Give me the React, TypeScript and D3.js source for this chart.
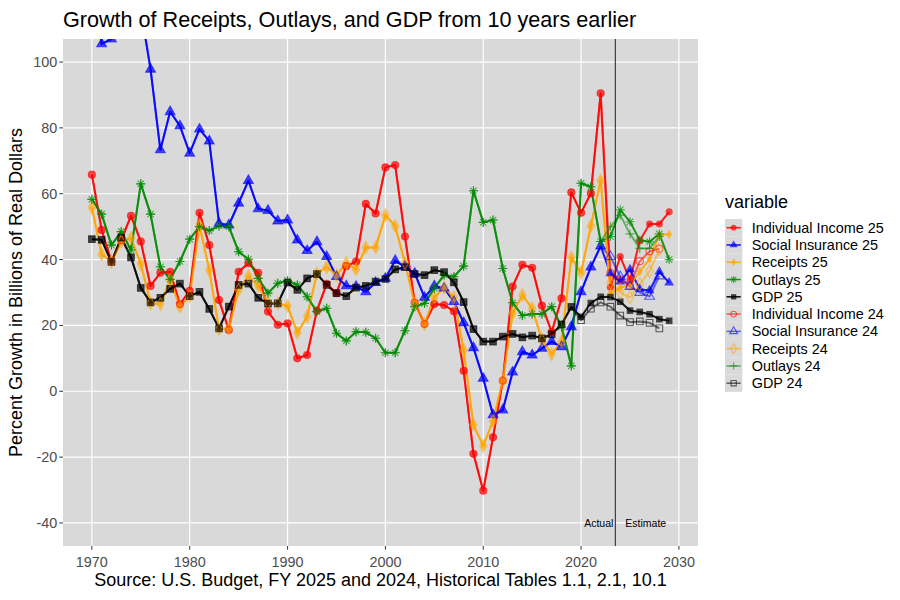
import React from "react";
import * as d3 from "d3";

// ---------- data ----------
const YEARS_25 = d3.range(1970, 2030); // 1970..2029
const YEARS_24 = d3.range(1970, 2029); // 1970..2028

const individualIncome25 = [
  65.8, 49, 39.4, 45.9, 53.3, 45.5, 32, 36, 36.3, 26.5,
  30.5, 54.2, 44.4, 27.7, 18.6, 36.3, 38.9, 36, 24.2, 20.2,
  20.6, 10, 11, 24.5, 32.6, 29.8, 38, 39.4, 56.9, 54,
  68, 68.7, 47, 26.9, 20.4, 26.5, 26.2, 24.3, 6.2, -19,
  -30.2, -14, 3.2, 31.8, 38.4, 37.5, 26, 18, 28.2, 60.4,
  54.2, 60.1, 90.5, 31.6, 40.9, 33.8, 45.7, 50.8, 50.8, 54.5,
];
const socialInsurance25 = [
  130, 105.5, 107, 125, 128, 116, 97.8, 73.3, 84.9, 80.6,
  72.3, 79.6, 76, 51, 50.5, 57.1, 64, 55.4, 54.9, 51.7,
  52, 45.9, 42.7, 45.4, 40.9, 34.8, 32, 31.8, 30.2, 33,
  34.3, 39.7, 37.8, 35.8, 28.5, 32, 31.3, 27.2, 20.8, 13.2,
  3.9, -7.2, -5.7, 5.8, 12, 11, 13, 15.1, 13.5, 19.6,
  30.2, 37.7, 44.1, 35.8, 33.3, 37, 31, 30.6, 36.3, 33,
];
const receipts25 = [
  55.8, 41.6, 39.4, 45.4, 46.5, 38.7, 26.7, 26.5, 33.8, 25.7,
  28.9, 50.5, 36.8, 18.8, 19.1, 30.8, 35, 32, 26.9, 26.7,
  25.9, 17.8, 22.7, 35.8, 37.7, 35.3, 38.9, 37, 43.7, 43.7,
  53.5, 50.2, 38.9, 26.7, 20.4, 28.5, 31.5, 28.5, 12.5, -10.2,
  -16.6, -9, 3.2, 23.7, 29.2, 25.2, 15.6, 11.3, 15.1, 40.6,
  36, 50.2, 64, 29.8, 31.5, 32.3, 36.3, 40.2, 47.5, 47.7,
];
const outlays25 = [
  58.3, 53.8, 44.4, 48.5, 42.9, 63, 53.8, 37.8, 34, 39.4,
  46.2, 50, 48.8, 50.2, 50, 42.4, 40.1, 34.3, 29.8, 32.8,
  33.6, 32.3, 28.7, 24.2, 25.2, 17.6, 15.3, 18.1, 17.9, 16.1,
  11.7, 11.7, 18.4, 25.7, 26.7, 31.3, 35.3, 34.8, 38, 60.9,
  51.3, 52, 37.3, 26.9, 23, 23.5, 23.5, 25.7, 19.6, 7.7,
  63.2, 62.1, 45.5, 47, 55.1, 51.5, 45.9, 45.4, 47.8, 40,
];
const gdp25 = [
  46.2, 46, 39.3, 46.7, 40.7, 31.4, 27, 28.4, 31.1, 32.7,
  28.9, 30.2, 25, 19.1, 25.7, 32.3, 32.7, 28.4, 26.6, 26.7,
  33, 30.8, 34.3, 35.6, 32.3, 29.8, 28.9, 31.5, 32, 33.3,
  34.1, 37, 37.7, 35.6, 35.3, 36.8, 36.2, 33.1, 27.1, 18.9,
  15.1, 15.1, 16.6, 17.4, 16.4, 16.9, 16.1, 17.3, 20.3, 25.6,
  22.6, 26.8, 28.7, 28.6, 27.2, 24.5, 24.1, 23.4, 21.9, 21.4,
];

const individualIncome24 = [
  65.8, 49, 39.4, 45.9, 53.3, 45.5, 32, 36, 36.3, 26.5,
  30.5, 54.2, 44.4, 27.7, 18.6, 36.3, 38.9, 36, 24.2, 20.2,
  20.6, 10, 11, 24.5, 32.6, 29.8, 38, 39.4, 56.9, 54,
  68, 68.7, 47, 26.9, 20.4, 26.5, 26.2, 24.3, 6.2, -19,
  -30.2, -14, 3.2, 31.8, 38.4, 37.5, 26, 18, 28.2, 60.4,
  54.2, 60.1, 90.5, 36, 34, 32, 39.5, 42.5, 43.3,
];
const socialInsurance24 = [
  130, 105.5, 107, 125, 128, 116, 97.8, 73.3, 84.9, 80.6,
  72.3, 79.6, 76, 51, 50.5, 57.1, 64, 55.4, 54.9, 51.7,
  52, 45.9, 42.7, 45.4, 40.9, 34.8, 32, 31.8, 30.2, 33,
  34.3, 39.7, 37.8, 35.8, 28.5, 32, 31.3, 27.2, 20.8, 13.2,
  3.9, -7.2, -5.7, 5.8, 12, 11, 13, 15.1, 13.5, 19.6,
  30.2, 37.7, 44.1, 40.9, 34.8, 31.8, 30, 28.8, 35,
];
const receipts24 = [
  55.8, 41.6, 39.4, 45.4, 46.5, 38.7, 26.7, 26.5, 33.8, 25.7,
  28.9, 50.5, 36.8, 18.8, 19.1, 30.8, 35, 32, 26.9, 26.7,
  25.9, 17.8, 22.7, 35.8, 37.7, 35.3, 38.9, 37, 43.7, 43.7,
  53.5, 50.2, 38.9, 26.7, 20.4, 28.5, 31.5, 28.5, 12.5, -10.2,
  -16.6, -9, 3.2, 23.7, 29.2, 25.2, 15.6, 11.3, 15.1, 40.6,
  36, 50.2, 64, 33, 30, 28.5, 32.5, 36.5, 43,
];
const outlays24 = [
  58.3, 53.8, 44.4, 48.5, 42.9, 63, 53.8, 37.8, 34, 39.4,
  46.2, 50, 48.8, 50.2, 50, 42.4, 40.1, 34.3, 29.8, 32.8,
  33.6, 32.3, 28.7, 24.2, 25.2, 17.6, 15.3, 18.1, 17.9, 16.1,
  11.7, 11.7, 18.4, 25.7, 26.7, 31.3, 35.3, 34.8, 38, 60.9,
  51.3, 52, 37.3, 26.9, 23, 23.5, 23.5, 25.7, 19.6, 7.7,
  63.2, 62.1, 45.5, 50, 53.5, 47.8, 43.4, 43.4, 47,
];
const gdp24 = [
  46.2, 46, 39.3, 46.7, 40.7, 31.4, 27, 28.4, 31.1, 32.7,
  28.9, 30.2, 25, 19.1, 25.7, 32.3, 32.7, 28.4, 26.6, 26.7,
  33, 30.8, 34.3, 35.6, 32.3, 29.8, 28.9, 31.5, 32, 33.3,
  34.1, 37, 37.7, 35.6, 35.3, 36.8, 36.2, 33.1, 27.1, 18.9,
  15.1, 15.1, 16.6, 17.4, 16.4, 16.9, 16.1, 17.3, 20.3, 25.6,
  21.6, 25.1, 27, 25.7, 23, 21, 21.2, 20.8, 19.1,
];

const SERIES_NAMES = [
  "Individual Income 25", "Social Insurance 25", "Receipts 25", "Outlays 25", "GDP 25",
  "Individual Income 24", "Social Insurance 24", "Receipts 24", "Outlays 24", "GDP 24",
];
const X_TICKS = [1970, 1980, 1990, 2000, 2010, 2020, 2030];
const Y_TICKS = [-40, -20, 0, 20, 40, 60, 80, 100];
const DIVIDER_YEAR = 2023.5;
const TITLE = "Growth of Receipts, Outlays, and GDP from 10 years earlier";
const Y_TITLE = "Percent Growth in Billions of Real Dollars";
const CAPTION = "Source: U.S. Budget, FY 2025 and 2024, Historical Tables 1.1, 2.1, 10.1";
const LEGEND_TITLE = "variable";

// ---------- styles ----------
const COLORS = ["#FF0000", "#0000FF", "#FFA500", "#008B00", "#000000"];
const SHAPES25 = ["circle", "triangle", "diamond", "asterisk", "square"];
const SHAPES24 = ["ocircle", "otriangle", "odiamond", "plus", "osquare"];

const series = SERIES_NAMES.map((name, i) => {
  const is25 = i < 5;
  const k = i % 5;
  const values = [
    individualIncome25, socialInsurance25, receipts25, outlays25, gdp25,
    individualIncome24, socialInsurance24, receipts24, outlays24, gdp24,
  ][i];
  const years = is25 ? YEARS_25 : YEARS_24;
  return {
    name,
    color: COLORS[k],
    shape: is25 ? SHAPES25[k] : SHAPES24[k],
    lineOpacity: is25 ? 0.88 : 0.55,
    pointOpacity: is25 ? 0.7 : 0.6,
    data: years.map((yr, j) => ({ year: yr, value: values[j] })),
  };
});

const FONT = "'Liberation Sans', Arial, Helvetica, sans-serif";

function markerPath(shape: string, scale = 1): string {
  const s = scale;
  switch (shape) {
    case "circle":
    case "ocircle":
      return d3.symbol(d3.symbolCircle, 40 * s * s)() as string;
    case "triangle":
    case "otriangle":
      return d3.symbol(d3.symbolTriangle, 42 * s * s)() as string;
    case "diamond":
      return d3.symbol(d3.symbolDiamond, 30 * s * s)() as string;
    case "odiamond":
      return d3.symbol(d3.symbolDiamond, 46 * s * s)() as string;
    case "square":
    case "osquare":
      return d3.symbol(d3.symbolSquare, 44 * s * s)() as string;
    case "plus": {
      const r = 4.5 * s;
      return `M${-r},0L${r},0M0,${-r}L0,${r}`;
    }
    case "asterisk": {
      const r = 4.5 * s;
      const a = r * 0.7071;
      return `M${-r},0L${r},0M0,${-r}L0,${r}M${-a},${-a}L${a},${a}M${-a},${a}L${a},${-a}`;
    }
  }
  return "";
}

function markerStyle(shape: string, color: string, opacity: number) {
  const filled = ["circle", "triangle", "diamond", "square"].includes(shape);
  if (filled) return { fill: color, fillOpacity: opacity, stroke: "none" };
  return { fill: "none", stroke: color, strokeOpacity: opacity, strokeWidth: 1.1 };
}

export default function App() {
  const W = 900;
  const H = 600;
  const L = 63, R = 698, T = 39, B = 546;

  const x = d3.scaleLinear().domain([1967.05, 2031.95]).range([L, R]);
  const y = d3.scaleLinear().domain([-47, 107]).range([B, T]);

  const line = d3
    .line<{ year: number; value: number }>()
    .x((d) => x(d.year))
    .y((d) => y(d.value));

  const legendX = 725;
  const legendRow0 = 227.7;
  const keySize = 17.28;

  return (
    <svg
      width={W}
      height={H}
      style={{ position: "absolute", left: 0, top: 0, background: "#fff" }}
      fontFamily={FONT}
    >
      <defs>
        <clipPath id="panel-clip">
          <rect x={L} y={T} width={R - L} height={B - T} />
        </clipPath>
      </defs>
      <rect x={0} y={0} width={W} height={H} fill="#fff" />
      {/* panel */}
      <rect x={L} y={T} width={R - L} height={B - T} fill="#D9D9D9" />
      {X_TICKS.map((t) => (
        <line key={"gx" + t} x1={x(t)} x2={x(t)} y1={T} y2={B} stroke="#fff" strokeWidth={1.2} />
      ))}
      {Y_TICKS.map((t) => (
        <line key={"gy" + t} x1={L} x2={R} y1={y(t)} y2={y(t)} stroke="#fff" strokeWidth={1.2} />
      ))}

      <g clipPath="url(#panel-clip)">
        {series.map((s) => (
          <path
            key={"l" + s.name}
            d={line(s.data) as string}
            fill="none"
            stroke={s.color}
            strokeOpacity={s.lineOpacity}
            strokeWidth={2}
            strokeLinejoin="round"
          />
        ))}
        {series.map((s) => (
          <g key={"p" + s.name}>
            {s.data.map((d) => (
              <path
                key={d.year}
                d={markerPath(s.shape)}
                transform={`translate(${x(d.year)},${y(d.value)})`}
                {...markerStyle(s.shape, s.color, s.pointOpacity)}
              />
            ))}
          </g>
        ))}
        <line
          x1={x(DIVIDER_YEAR)}
          x2={x(DIVIDER_YEAR)}
          y1={T}
          y2={B}
          stroke="#222"
          strokeWidth={1}
        />
      </g>
      <text x={x(DIVIDER_YEAR) - 2} y={y(-40) + 4} fontSize={10.5} textAnchor="end" fill="#000">
        Actual
      </text>
      <text x={x(DIVIDER_YEAR) + 10} y={y(-40) + 4} fontSize={10.5} textAnchor="start" fill="#000">
        Estimate
      </text>

      {/* axes */}
      {X_TICKS.map((t) => (
        <g key={"xt" + t}>
          <line x1={x(t)} x2={x(t)} y1={B} y2={B + 3.7} stroke="#333" strokeWidth={1} />
          <text x={x(t)} y={B + 20.5} fontSize={14.4} textAnchor="middle" fill="#4D4D4D">
            {t}
          </text>
        </g>
      ))}
      {Y_TICKS.map((t) => (
        <g key={"yt" + t}>
          <line x1={L - 3.7} x2={L} y1={y(t)} y2={y(t)} stroke="#333" strokeWidth={1} />
          <text x={L - 5.8} y={y(t) + 5} fontSize={14.4} textAnchor="end" fill="#4D4D4D">
            {t}
          </text>
        </g>
      ))}

      {/* titles */}
      <text x={L} y={27} fontSize={21.6} fill="#000">
        {TITLE}
      </text>
      <text
        transform={`translate(21.5,${(T + B) / 2}) rotate(-90)`}
        fontSize={18}
        textAnchor="middle"
        fill="#000"
      >
        {Y_TITLE}
      </text>
      <text x={(L + R) / 2} y={586} fontSize={18} textAnchor="middle" fill="#000">
        {CAPTION}
      </text>

      {/* legend */}
      <text x={legendX} y={208} fontSize={18} fill="#000">
        {LEGEND_TITLE}
      </text>
      {series.map((s, i) => {
        const cy = legendRow0 + i * keySize;
        return (
          <g key={"lg" + s.name}>
            <rect
              x={legendX}
              y={cy - keySize / 2}
              width={keySize}
              height={keySize}
              fill="#D9D9D9"
            />
            <line
              x1={legendX + 1.5}
              x2={legendX + keySize - 1.5}
              y1={cy}
              y2={cy}
              stroke={s.color}
              strokeOpacity={s.lineOpacity}
              strokeWidth={1.6}
            />
            <path
              d={markerPath(s.shape, 0.8)}
              transform={`translate(${legendX + keySize / 2},${cy})`}
              {...markerStyle(s.shape, s.color, s.pointOpacity)}
            />
            <text x={legendX + 26.7} y={cy + 5} fontSize={14.4} fill="#000">
              {s.name}
            </text>
          </g>
        );
      })}
    </svg>
  );
}
